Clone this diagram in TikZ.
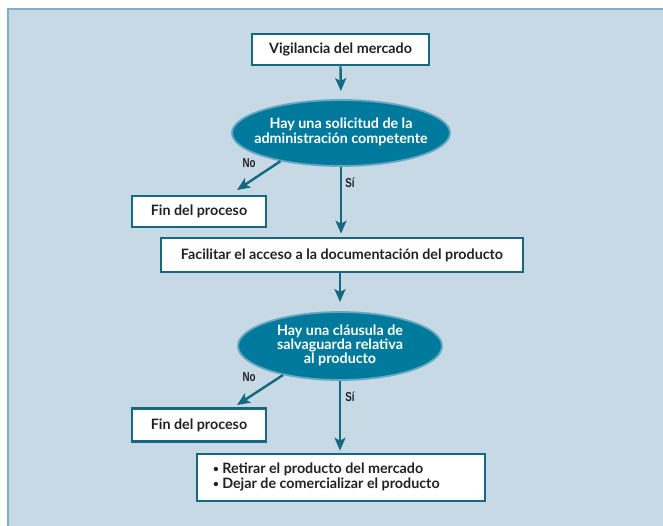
\documentclass[tikz,border=0pt]{standalone}
\usepackage{fontspec}
\setmainfont{Lato}
\newfontfamily\lblfont{Liberation Sans}
\usetikzlibrary{shapes.geometric,arrows.meta}
\definecolor{panelfill}{HTML}{C7D9E5}
\definecolor{panelline}{HTML}{7DAFC8}
\definecolor{teal}{HTML}{15687F}
\definecolor{ellfill}{HTML}{007A9C}
\definecolor{ellline}{HTML}{66A8C2}
\definecolor{txt}{HTML}{222222}
\newcommand{\smbullet}{{\fontsize{10}{10}\selectfont\raisebox{1pt}{•}}}
\tikzset{
  box/.style={draw=teal, line width=2.6pt, fill=white, rectangle, inner sep=0pt,
    font=\bfseries\fontsize{14.3}{16}\selectfont, text=txt},
  decision/.style={ellipse, draw=ellline, line width=1.8pt, fill=ellfill, inner sep=0pt,
    font=\bfseries\fontsize{14.3}{16}\selectfont, text=white},
  flow/.style={draw=teal, line width=2.4pt, -{Stealth[length=13pt,width=11pt,inset=3pt]}},
  lbl/.style={font=\lblfont\bfseries\fontsize{13}{15}\selectfont, text=txt, inner sep=0pt}
}
\begin{document}
\begin{tikzpicture}[x=1pt,y=-1pt]
\useasboundingbox (0,0) rectangle (663,526);
\clip (0,0) rectangle (663,526);
\fill[panelfill] (7,8) rectangle (670,530);
\draw[panelline, line width=2pt] (8,530) -- (8,9) -- (670,9);

\node[box, minimum width=177pt, minimum height=31pt] (vig) at (340.5,49.5) {Vigilancia del mercado};
\node[decision, minimum width=218pt, minimum height=66pt] (e1) at (341,133)
  {\makebox[0pt]{\begin{tabular}{@{}c@{}}Hay una solicitud de la\\[-1pt] administración competente\end{tabular}}};
\node[box, minimum width=134pt, minimum height=31pt] (fin1) at (199,211.5) {Fin del proceso};
\node[box, minimum width=362pt, minimum height=34pt] (fac) at (342,255) {Facilitar el acceso a la documentación del producto};
\node[decision, minimum width=204pt, minimum height=68pt] (e2) at (340,346)
  {\makebox[0pt]{\begin{tabular}{@{}c@{}}Hay una cláusula de\\[-2pt] salvaguarda relativa\\[-2pt] al producto\end{tabular}}};
\node[box, minimum width=134pt, minimum height=33pt] (fin2) at (199,425) {Fin del proceso};
\node[box, minimum width=288pt, minimum height=47pt, align=left] (fin3) at (341,477.5)
  {\makebox[256pt][l]{\begin{tabular}{@{}l@{}}\smbullet\ Retirar el producto del mercado\\[-1pt] \smbullet\ Dejar de comercializar el producto\end{tabular}}};

\coordinate (n1) at (237,190);
\coordinate (n2) at (237,405);

\draw[flow, shorten >=8pt] (vig.south) -- (e1.north);
\draw[flow] (e1.205) -- (n1);
\draw[flow, shorten >=3pt] (e1.south) -- (e1.south |- fac.north);
\draw[flow, shorten >=9pt] (fac.south -| e2.north) -- (e2.north);
\draw[flow] (e2.207) -- (n2);
\draw[flow, shorten >=2pt] (e2.south) -- (e2.south |- fin3.north);

\node[lbl] (no1) at (249,163) {\scalebox{0.75}[1]{No}};
\node[lbl] (si1) at (350,183) {\scalebox{0.75}[1]{Sí}};
\node[lbl] (no2) at (249,377) {\scalebox{0.75}[1]{No}};
\node[lbl] (si2) at (350,397) {\scalebox{0.75}[1]{Sí}};
\end{tikzpicture}
\end{document}
